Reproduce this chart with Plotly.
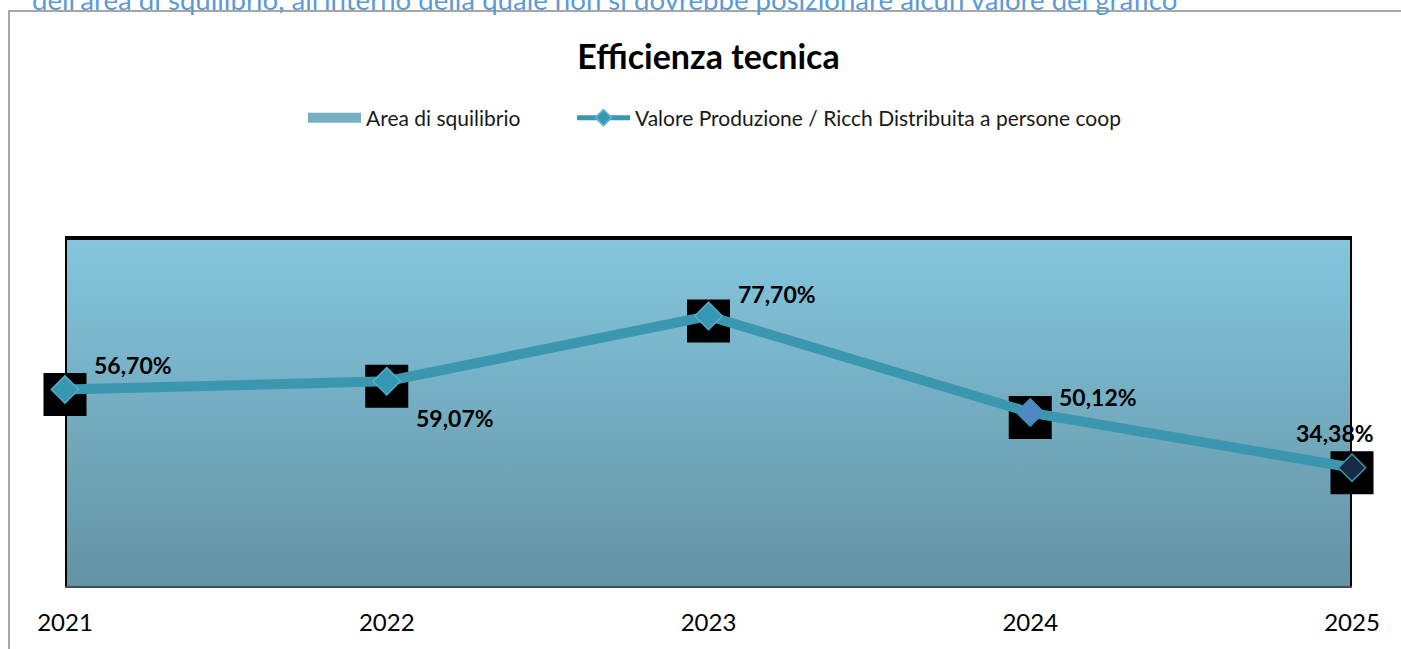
import plotly.graph_objects as go

# ---- data ----
years = [2021, 2022, 2023, 2024, 2025]
year_labels = ["2021", "2022", "2023", "2024", "2025"]
efficienza = [56.70, 59.07, 77.70, 50.12, 34.38]          # Valore Produzione / Ricch Distribuita a persone coop (%)
area_top = [100, 100, 100, 100, 100]                       # Area di squilibrio upper bound (%)
area_bottom = [0, 0, 0, 0, 0]                              # Area di squilibrio lower bound (%)

title_text = "Efficienza tecnica"
note_text = "dell'area di squilibrio, all'interno della quale non si dovrebbe posizionare alcun valore del grafico"
name_area = "Area di squilibrio"
name_line = "Valore Produzione / Ricch Distribuita a persone coop"

FONT = "Lato"
W, H = 1401, 649
ML, MR, MT, MB = 65, 49, 168, 61
PH = H - MT - MB
PW = W - ML - MR
YMAX = 120
PXU = PH / YMAX

# label offsets (pixels) and marker styles
lab_dx = [68, 68, 68, 68, -17]
lab_dy = [25, -37, 22, 16, 35]
dia_fill = ["#3597B2", "#3597B2", "#3597B2", "#4F87C9", "#172944"]
dia_line = ["#55AECB", "#55AECB", "#55AECB", "#3B96AE", "#3B96AE"]

poly_x = years + years[::-1] + [years[0]]
poly_y = area_top + area_bottom[::-1] + [area_top[0]]
edge_x = [years[0]] + years + [years[-1]]
edge_y = [area_bottom[0]] + area_top + [area_bottom[-1]]

fig = go.Figure()

# gradient area
fig.add_trace(go.Scatter(
    x=poly_x, y=poly_y, mode="lines", fill="toself", name=name_area,
    line=dict(width=0, color="rgba(0,0,0,0)"),
    fillgradient=dict(type="vertical", colorscale=[[0, "#6392A3"], [1, "#84C6DE"]]),
    hoverinfo="skip", showlegend=False,
))
# outline of area: sides + top (black), bottom (grey)
fig.add_trace(go.Scatter(
    x=edge_x, y=edge_y, mode="lines", line=dict(width=4, color="#000000"),
    showlegend=False, hoverinfo="skip",
))
fig.add_trace(go.Scatter(
    x=years, y=area_bottom, mode="lines", line=dict(width=4, color="#3F4E55"),
    showlegend=False, hoverinfo="skip",
))
# legend entry for the area
fig.add_trace(go.Scatter(
    x=[None], y=[None], mode="lines", name=name_area,
    line=dict(width=12, color="#76AFC3"), legend="legend",
))
# black squares behind markers (slightly lower)
fig.add_trace(go.Scatter(
    x=years, y=efficienza, mode="markers", yaxis="y2",
    marker=dict(symbol="square", size=43, color="#000000", line=dict(width=0)),
    showlegend=False, cliponaxis=False, hoverinfo="skip",
))
# line + diamonds
fig.add_trace(go.Scatter(
    x=years, y=efficienza, mode="lines+markers", yaxis="y3", name=name_line,
    line=dict(width=10, color="#3B96AF"),
    marker=dict(symbol="diamond", size=21, color=dia_fill, line=dict(width=1.5, color=dia_line)),
    cliponaxis=False, legend="legend2",
))

# data labels
for x, v, dx, dy in zip(years, efficienza, lab_dx, lab_dy):
    fig.add_annotation(
        x=x, y=v, xref="x", yref="y", text=f"<b>{v:.2f}%</b>".replace(".", ","),
        showarrow=False, xshift=dx, yshift=dy,
        font=dict(family=FONT, size=23, color="#000000"),
    )

# cut-off note text at the very top
fig.add_annotation(
    x=(30 - ML) / PW, y=((H - MB) + 1) / PH, xref="paper", yref="paper",
    xanchor="left", yanchor="middle", showarrow=False, text=note_text,
    font=dict(family=FONT, size=27.6, color="#5B9BD5"),
)

# chart frame
fig.add_shape(
    type="rect", xref="paper", yref="paper",
    x0=(9 - ML) / PW, x1=(1430 - ML) / PW,
    y0=-(680 - (H - MB)) / PH, y1=((H - MB) - 11) / PH,
    line=dict(color="#A6A6A6", width=2), fillcolor="rgba(0,0,0,0)", layer="above",
)

leg_common = dict(orientation="h", xanchor="left", yanchor="middle",
                  y=1 + (MT - 118) / PH, itemwidth=53,
                  font=dict(family=FONT, size=21, color="#1A1A1A"),
                  bgcolor="rgba(0,0,0,0)")

fig.update_layout(
    width=W, height=H, autosize=False,
    margin=dict(l=ML, r=MR, t=MT, b=MB, pad=0),
    paper_bgcolor="#FFFFFF", plot_bgcolor="rgba(0,0,0,0)",
    font=dict(family=FONT, color="#000000"),
    title=dict(text=f"<b>{title_text}</b>", x=0.5, xref="paper", xanchor="center",
               y=1 - 57 / H, yref="container", yanchor="middle",
               font=dict(family=FONT, size=34, color="#000000")),
    legend=dict(x=(303 - ML) / PW, **leg_common),
    legend2=dict(x=(572 - ML) / PW, itemsizing="constant", **leg_common),
    xaxis=dict(range=[years[0], years[-1]], tickvals=years, ticktext=year_labels,
               showgrid=False, zeroline=False, showline=False, ticks="", automargin=False,
               ticklabelstandoff=18, tickfont=dict(family=FONT, size=24, color="#000000")),
    yaxis=dict(range=[0, YMAX], visible=False, showgrid=False, zeroline=False),
    yaxis2=dict(range=[5 / PXU, YMAX + 5 / PXU], overlaying="y", visible=False,
                showgrid=False, zeroline=False),
    yaxis3=dict(range=[0, YMAX], overlaying="y", visible=False,
                showgrid=False, zeroline=False),
    showlegend=True,
)

fig.write_html("out.html", config={"displayModeBar": False},
               post_script="document.body.style.margin='0';")
